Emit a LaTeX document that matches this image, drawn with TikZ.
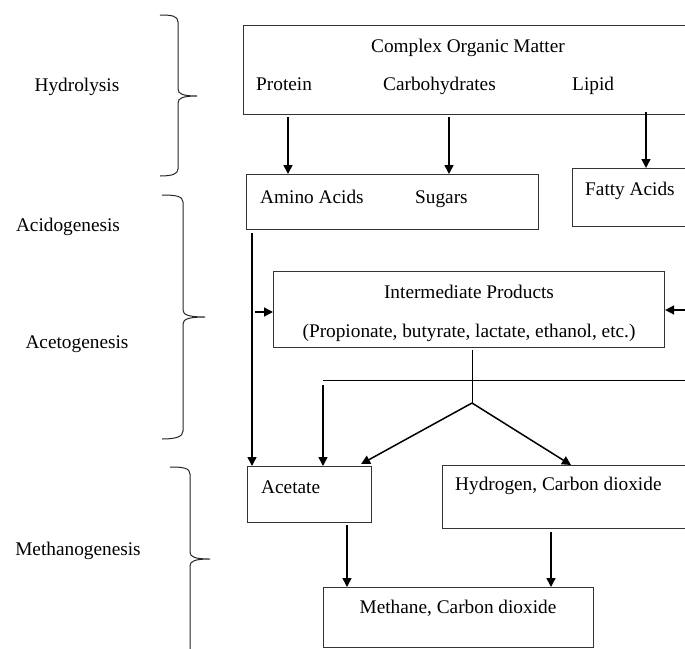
\documentclass[tikz,border=0pt]{standalone}
\usepackage{fontspec}
\setmainfont{Liberation Serif}
\usetikzlibrary{arrows.meta,calc}
\begin{document}
\begin{tikzpicture}[x=1pt,y=-1pt,
  every node/.style={font=\fontsize{19.3}{23}\selectfont},
  box/.style={draw=black!80,line width=1.1pt,anchor=north west,inner sep=0pt},
  lbl/.style={inner sep=0pt,anchor=base west},
  ctr/.style={inner sep=0pt,anchor=base},
  arr/.style={line width=1.5pt,-{Triangle[length=9pt,width=9pt]}},
  ln/.style={line width=1pt},
  brace/.style={line width=1pt,black!85}]
\useasboundingbox (0,0) rectangle (685,648);
\clip (0,0) rectangle (685,648);
% boxes
\node[box,minimum width=457pt,minimum height=89pt] (cplx) at (243,25) {};
\node[box,minimum width=292pt,minimum height=55pt] (amino) at (246,174) {};
\node[box,minimum width=130pt,minimum height=58pt] (fatty) at (572,168) {};
\node[box,minimum width=391pt,minimum height=76pt] (inter) at (273,271) {};
\node[box,minimum width=124pt,minimum height=56pt] (acet) at (247,466) {};
\node[box,minimum width=260pt,minimum height=63pt] (hydro) at (442,465) {};
\node[box,minimum width=270pt,minimum height=60pt] (meth) at (323,587) {};
% texts
\node[ctr] (tcplx) at (468,52) {Complex Organic Matter};
\node[lbl] (tprot) at (256,90) {Protein};
\node[lbl] (tcarb) at (383,90) {Carbohydrates};
\node[lbl] (tlip) at (572,90) {Lipid};
\node[lbl] (tamino) at (260,203) {Amino Acids};
\node[lbl] (tsug) at (415,203) {Sugars};
\node[lbl] (tfat) at (585,195) {Fatty Acids};
\node[ctr] (tint) at (469,298) {Intermediate Products};
\node[ctr] (tprop) at (469,337) {(Propionate, butyrate, lactate, ethanol, etc.)};
\node[lbl] (tacet) at (261,493) {Acetate};
\node[lbl] (thyd) at (455,490) {Hydrogen, Carbon dioxide};
\node[ctr] (tmeth) at (458,613) {Methane, Carbon dioxide};
% stage labels
\node[ctr] (s1) at (77,91) {Hydrolysis};
\node[ctr] (s2) at (68,231) {Acidogenesis};
\node[ctr] (s3) at (77,348) {Acetogenesis};
\node[ctr] (s4) at (78,555) {Methanogenesis};
% braces
\draw[brace] (160,15) .. controls (172,15) and (178,16) .. (178,22) -- (178,89)
  .. controls (178,94) and (183,96) .. (197,96) .. controls (183,96) and (178,98) .. (178,103)
  -- (178,169) .. controls (178,174) and (172,176) .. (160,176);
\draw[brace] (162,195) .. controls (175,195) and (183,196) .. (183,202) -- (183,310)
  .. controls (183,315) and (189,317) .. (205,317) .. controls (189,317) and (183,319) .. (183,324)
  -- (183,431) .. controls (183,437) and (175,439) .. (162,439);
\draw[brace] (170,467) .. controls (183,467) and (190,468) .. (190,474) -- (190,552)
  .. controls (190,557) and (195,559) .. (210,559) .. controls (195,559) and (190,561) .. (190,566)
  -- (190,660);
% coordinates
\coordinate (p1) at (288,117);
\coordinate (p2) at (449,117);
\coordinate (p3) at (646,112);
\coordinate (p4) at (252,233);
\coordinate (p5) at (255,312);
\coordinate (p6) at (690,310);
\coordinate (st) at (472,350);
\coordinate (br) at (472,403);
\coordinate (hl) at (323,380);
\coordinate (hr) at (690,380);
\coordinate (p7) at (323,385);
\coordinate (p8) at (347,525);
\coordinate (p9) at (551,532);
% connectors
\draw[arr] (p1) -- (p1 |- amino.north);
\draw[arr] (p2) -- (p2 |- amino.north);
\draw[arr] (p3) -- (p3 |- fatty.north);
\draw[arr] (p4) -- (p4 |- acet.north);
\draw[arr] (p5) -- (p5 -| inter.west);
\draw[arr] (p6) -- (p6 -| inter.east);
\draw[ln] (st) -- (br);
\draw[arr] (br) -- ($(acet.north east)+(-11,-2)$);
\draw[arr] (br) -- ($(hydro.north west)+(129,0)$);
\draw[ln] (hl) -- (hr);
\draw[arr] (p7) -- (p7 |- acet.north);
\draw[arr] (p8) -- (p8 |- meth.north);
\draw[arr] (p9) -- (p9 |- meth.north);
\end{tikzpicture}
\end{document}
